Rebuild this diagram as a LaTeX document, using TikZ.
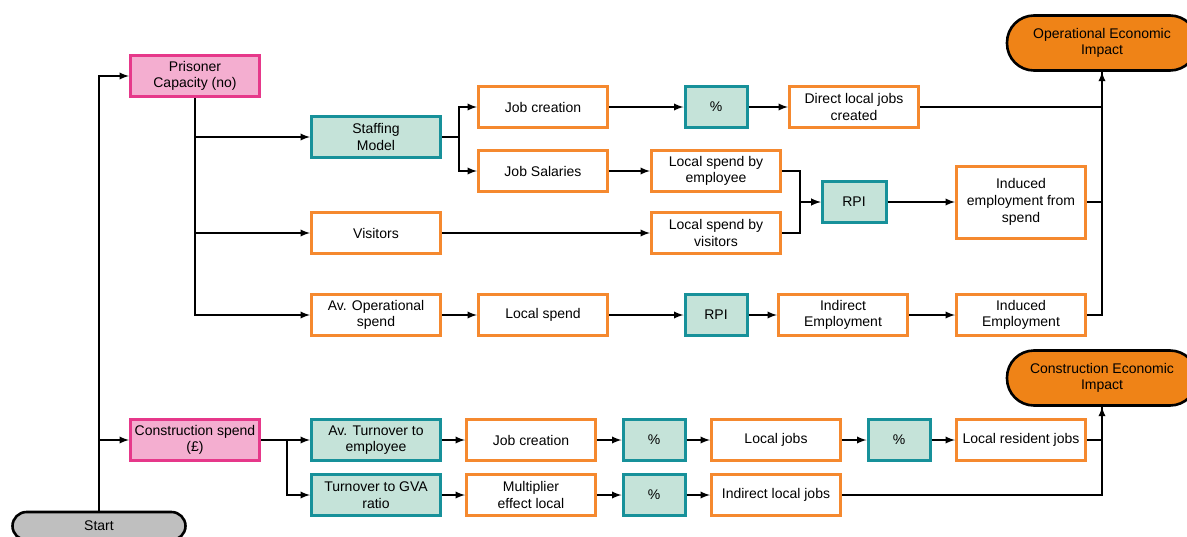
\documentclass[tikz,border=0pt]{standalone}
\usepackage{fontspec}
\setmainfont{Liberation Sans}
\usepackage{tikz}

\definecolor{pinkfill}{HTML}{F4AED0}
\definecolor{pinkline}{HTML}{E6388A}
\definecolor{tealfill}{HTML}{C5E3D9}
\definecolor{tealline}{HTML}{17919A}
\definecolor{orline}{HTML}{F5892F}
\definecolor{impfill}{HTML}{EF8317}
\definecolor{greyfill}{HTML}{BFBFBF}

\begin{document}
\begin{tikzpicture}[x=1pt, y=-1pt, line width=2.2pt, >=latex,
	every node/.style = {font=\fontsize{14}{16.7}\selectfont, align=center, inner sep=1pt},
	box/.style = {draw, rectangle, line width=3pt, minimum width=129pt, minimum height=41pt},
	pinkbox/.style = {box, draw=pinkline, fill=pinkfill},
	tealbox/.style = {box, draw=tealline, fill=tealfill},
	orbox/.style = {box, draw=orline, fill=white},
	pct/.style = {tealbox, minimum width=62pt},
	impact/.style = {draw=black, fill=impfill, line width=2.6pt, rounded corners=27pt, minimum width=190pt, minimum height=55pt},
	startbox/.style = {draw=black, fill=greyfill, line width=2.6pt, rounded corners=14pt, minimum width=173pt, minimum height=28pt}]
	\useasboundingbox (0,0) rectangle (1187,536);

	% operational side
	\node[pinkbox] (pc) at (195,76) {Prisoner\\Capacity (no)};
	\node[tealbox] (sm) at (376,137) {Staffing\\Model};
	\node[orbox] (jc) at (543,107) {Job creation};
	\node[pct] (p1) at (716,107) {\%};
	\node[orbox] (dlj) at (854,107) {Direct local jobs\\created};
	\node[impact] (oei) at (1102,43) {Operational Economic\\Impact};
	\node[orbox] (js) at (543,171) {Job Salaries};
	\node[orbox] (lse) at (716,171) {Local spend by\\employee};
	\node[tealbox, minimum width=64pt] (rpi1) at (854,202) {RPI};
	\node[orbox, minimum height=72pt] (ies) at (1021,202) {Induced\\employment from\\spend};
	\node[orbox] (vis) at (376,233) {Visitors};
	\node[orbox] (lsv) at (716,233) {Local spend by\\visitors};
	\node[orbox] (aos) at (376,315) {Av. Operational\\spend};
	\node[orbox] (ls) at (543,315) {Local spend};
	\node[pct] (rpi2) at (716,315) {RPI};
	\node[orbox] (ie) at (843,315) {Indirect\\Employment};
	\node[orbox] (inde) at (1021,315) {Induced\\Employment};

	% construction side
	\node[impact] (cei) at (1102,378) {Construction Economic\\Impact};
	\node[pinkbox] (cs) at (195,440) {Construction spend\\(£)};
	\node[tealbox] (ate) at (376,440) {Av. Turnover to\\employee};
	\node[orbox] (jc2) at (531,440) {Job creation};
	\node[pct] (p2) at (654,440) {\%};
	\node[orbox] (lj) at (776,440) {Local jobs};
	\node[pct] (p3) at (899,440) {\%};
	\node[orbox] (lrj) at (1021,440) {Local resident jobs};
	\node[tealbox] (gva) at (376,495) {Turnover to GVA\\ratio};
	\node[orbox] (mel) at (531,495) {Multiplier\\effect local};
	\node[pct] (p4) at (654,495) {\%};
	\node[orbox] (ilj) at (776,495) {Indirect local jobs};

	\node[startbox] (st) at (99,526) {Start};

	\draw[->] (st.north) |- (pc.west);
	\draw[->] (st.north |- cs.west) -- (cs.west);

	\draw[->] (pc.south) |- (sm.west);
	\draw[->] (pc.south) |- (vis.west);
	\draw[->] (pc.south) |- (aos.west);

	\draw[->] (sm.east) -- ++(17,0) |- (jc.west);
	\draw[->] (sm.east) -- ++(17,0) |- (js.west);
	\draw[->] (jc) -- (p1);
	\draw[->] (p1) -- (dlj);
	\draw[->] (dlj.east) -| (oei.south);
	\draw[->] (js) -- (lse);
	\draw[->] (vis) -- (lsv);
	\draw[->] (lse.east) -- ++(18,0) |- (rpi1.west);
	\draw[->] (lsv.east) -- ++(18,0) |- (rpi1.west);
	\draw[->] (rpi1) -- (ies);
	\draw (ies.east) -| (oei.south);
	\draw[->] (aos) -- (ls);
	\draw[->] (ls) -- (rpi2);
	\draw[->] (rpi2) -- (ie);
	\draw[->] (ie) -- (inde);
	\draw (inde.east) -| (oei.south);

	\draw[->] (cs.east) -- ++(26,0) |- (ate.west);
	\draw[->] (cs.east) -- ++(26,0) |- (gva.west);
	\draw[->] (ate) -- (jc2);
	\draw[->] (jc2) -- (p2);
	\draw[->] (p2) -- (lj);
	\draw[->] (lj) -- (p3);
	\draw[->] (p3) -- (lrj);
	\draw[->] (lrj.east) -| (cei.south);
	\draw[->] (gva) -- (mel);
	\draw[->] (mel) -- (p4);
	\draw[->] (p4) -- (ilj);
	\draw (ilj.east) -| (cei.south);
\end{tikzpicture}
\end{document}
